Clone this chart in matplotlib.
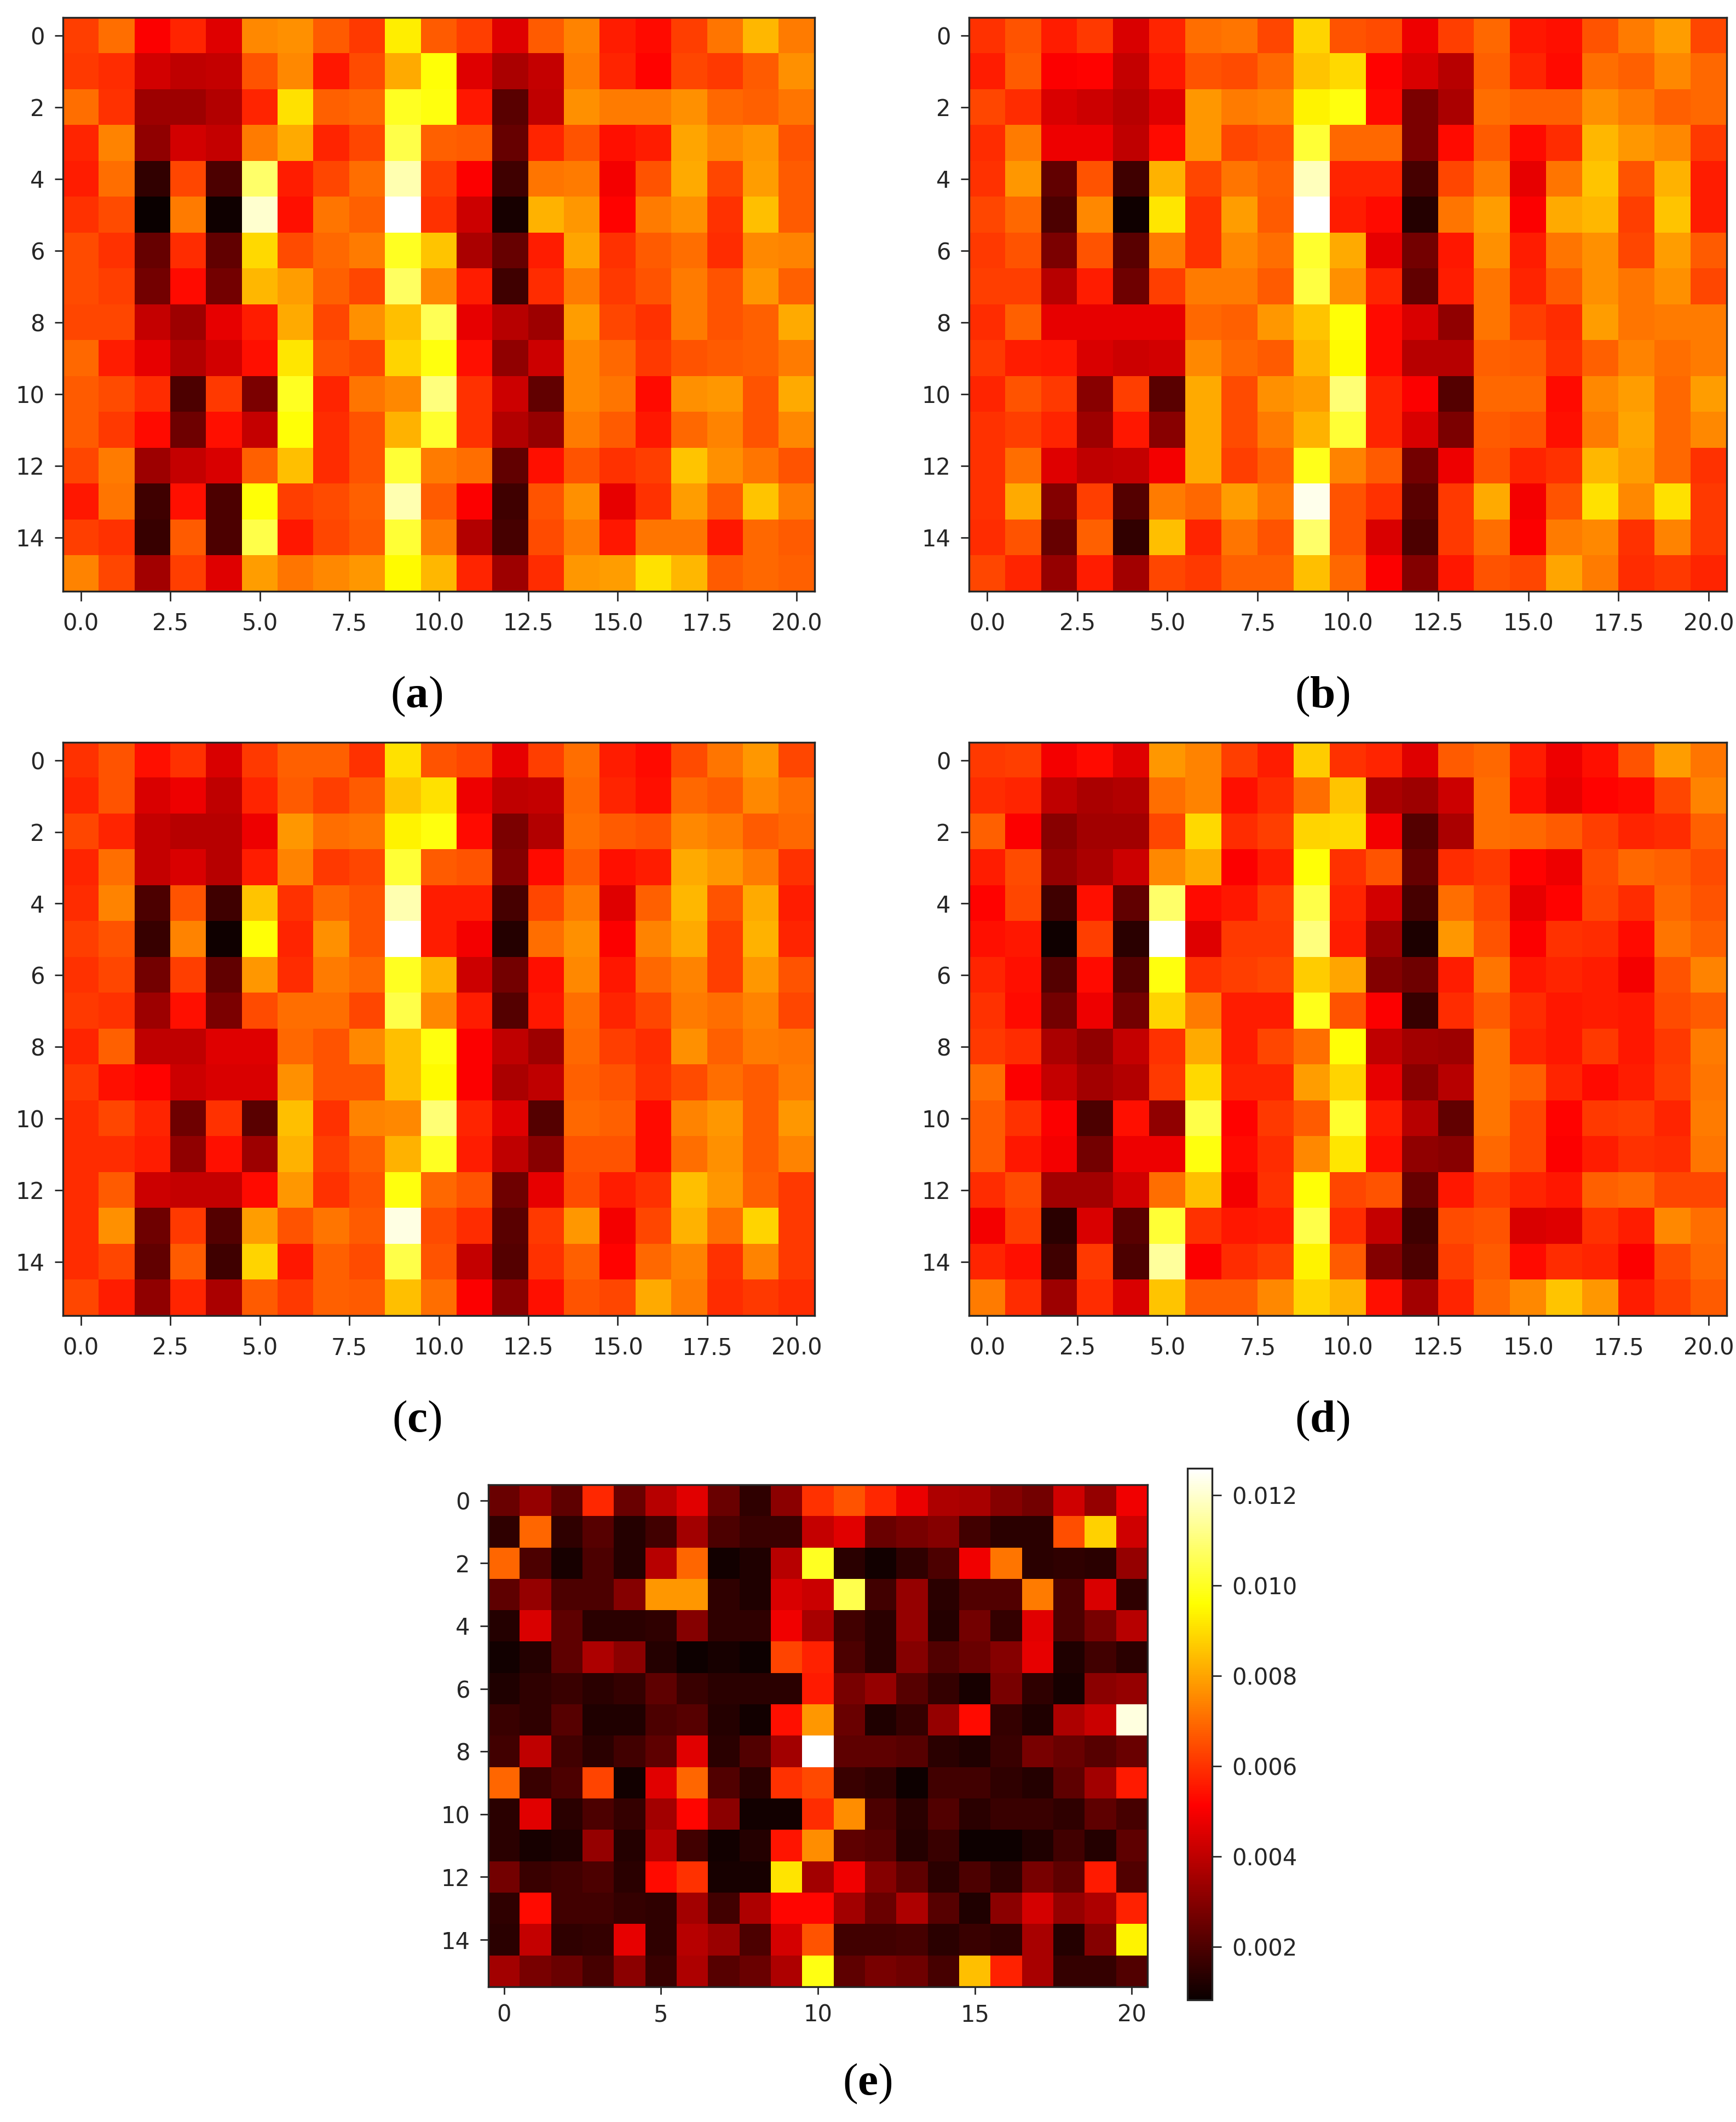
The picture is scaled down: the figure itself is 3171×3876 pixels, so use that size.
"""Heat maps of five panels, four sharing a common shape and one with a colour bar."""

import matplotlib

matplotlib.use("Agg")
import matplotlib.pyplot as plt
import numpy as np

plt.rcParams["mathtext.fontset"] = "custom"
plt.rcParams["mathtext.rm"] = "Liberation Serif"
plt.rcParams["mathtext.bf"] = "Liberation Serif:bold"

# panels a-d: position on the colour scale, 0 to 100
panel_a = [
    [46, 53, 36, 42, 32, 57, 58, 50, 45, 72, 50, 46, 32, 50, 56, 41, 38, 46, 54, 64, 55],
    [45, 43, 30, 27, 28, 49, 57, 40, 48, 62, 75, 32, 24, 28, 55, 42, 37, 47, 45, 50, 58],
    [53, 44, 22, 22, 25, 42, 70, 51, 52, 78, 76, 40, 12, 27, 58, 55, 55, 58, 52, 51, 54],
    [42, 56, 20, 30, 28, 55, 62, 42, 47, 82, 51, 50, 14, 42, 49, 39, 41, 61, 57, 59, 49],
    [41, 53, 6, 47, 10, 85, 41, 47, 53, 92, 46, 36, 8, 54, 55, 35, 49, 62, 47, 60, 50],
    [44, 48, 0, 55, 1, 95, 39, 54, 51, 100, 44, 29, 2, 63, 59, 37, 55, 58, 44, 65, 50],
    [48, 44, 14, 43, 13, 69, 48, 52, 55, 78, 66, 24, 14, 41, 61, 44, 50, 53, 43, 57, 56],
    [48, 46, 16, 38, 16, 64, 60, 51, 47, 84, 57, 41, 8, 43, 55, 45, 49, 55, 49, 59, 51],
    [47, 47, 28, 22, 33, 41, 62, 47, 58, 65, 83, 33, 26, 22, 60, 47, 44, 55, 49, 51, 62],
    [52, 41, 33, 25, 30, 39, 71, 49, 47, 68, 76, 39, 20, 29, 57, 52, 45, 49, 50, 51, 55],
    [50, 48, 43, 10, 45, 17, 78, 42, 54, 57, 87, 44, 29, 13, 57, 54, 38, 58, 59, 49, 62],
    [50, 45, 38, 15, 39, 28, 75, 43, 49, 63, 79, 44, 25, 21, 55, 50, 40, 52, 56, 49, 57],
    [47, 55, 22, 28, 31, 51, 65, 43, 49, 80, 55, 53, 13, 39, 49, 44, 46, 66, 58, 54, 49],
    [40, 54, 8, 39, 10, 75, 46, 48, 51, 92, 50, 36, 8, 49, 58, 33, 44, 60, 50, 66, 55],
    [46, 44, 7, 50, 10, 82, 40, 47, 50, 80, 55, 25, 9, 48, 55, 40, 54, 54, 40, 52, 50],
    [56, 47, 23, 46, 32, 60, 54, 57, 59, 74, 64, 42, 22, 43, 59, 60, 70, 64, 50, 52, 51],
]
panel_b = [
    [44, 49, 41, 45, 31, 42, 53, 54, 47, 68, 49, 48, 34, 46, 52, 40, 39, 49, 55, 60, 47],
    [41, 50, 36, 37, 28, 40, 49, 48, 52, 66, 69, 37, 31, 26, 51, 42, 38, 53, 51, 57, 52],
    [47, 43, 31, 29, 26, 32, 59, 55, 56, 73, 76, 38, 17, 24, 53, 51, 51, 58, 55, 51, 52],
    [43, 55, 34, 34, 27, 38, 59, 47, 49, 80, 52, 52, 17, 38, 50, 38, 43, 64, 59, 57, 45],
    [44, 59, 13, 49, 8, 63, 47, 54, 51, 93, 42, 42, 9, 47, 55, 33, 54, 66, 49, 63, 41],
    [47, 52, 10, 57, 1, 71, 44, 60, 50, 100, 41, 38, 4, 54, 60, 36, 62, 64, 46, 66, 41],
    [45, 49, 17, 49, 12, 55, 44, 57, 53, 79, 62, 33, 16, 40, 58, 41, 54, 58, 47, 60, 50],
    [46, 46, 26, 41, 15, 46, 55, 55, 50, 81, 58, 42, 13, 41, 54, 42, 50, 58, 54, 58, 47],
    [43, 51, 33, 33, 33, 33, 52, 51, 59, 66, 75, 38, 31, 20, 54, 46, 43, 60, 54, 55, 55],
    [45, 41, 40, 31, 29, 30, 57, 52, 50, 64, 74, 38, 26, 26, 51, 50, 44, 51, 56, 53, 55],
    [42, 49, 45, 19, 46, 12, 62, 48, 58, 60, 86, 42, 36, 11, 52, 52, 38, 57, 60, 52, 60],
    [44, 46, 42, 22, 40, 19, 62, 48, 55, 63, 80, 42, 31, 17, 50, 49, 39, 55, 61, 52, 57],
    [44, 53, 32, 27, 28, 35, 62, 46, 51, 77, 56, 50, 16, 34, 49, 42, 44, 64, 60, 52, 44],
    [44, 62, 18, 46, 11, 55, 52, 60, 54, 98, 49, 44, 12, 45, 62, 35, 49, 70, 57, 70, 45],
    [43, 49, 14, 51, 6, 65, 42, 54, 49, 85, 49, 31, 10, 45, 53, 36, 55, 57, 44, 56, 45],
    [47, 42, 21, 41, 23, 47, 45, 51, 51, 65, 52, 36, 18, 40, 49, 47, 61, 55, 43, 45, 42],
]
panel_c = [
    [44, 49, 39, 44, 31, 45, 51, 51, 44, 70, 49, 47, 33, 46, 53, 41, 38, 48, 54, 59, 47],
    [42, 49, 31, 34, 27, 42, 50, 46, 50, 66, 70, 34, 27, 28, 52, 42, 39, 52, 50, 57, 53],
    [47, 42, 28, 26, 26, 34, 59, 53, 54, 73, 76, 38, 17, 25, 53, 50, 49, 57, 55, 50, 52],
    [42, 53, 28, 31, 26, 41, 56, 45, 47, 80, 50, 49, 18, 38, 50, 39, 41, 62, 59, 55, 44],
    [43, 56, 10, 49, 8, 66, 44, 52, 49, 92, 41, 41, 9, 47, 55, 32, 51, 64, 49, 62, 41],
    [46, 49, 7, 56, 1, 75, 42, 58, 49, 100, 41, 35, 4, 53, 58, 36, 56, 62, 46, 63, 42],
    [44, 47, 16, 46, 13, 59, 43, 55, 52, 78, 63, 29, 16, 39, 57, 40, 52, 56, 46, 59, 49],
    [45, 44, 22, 39, 17, 48, 53, 53, 47, 82, 57, 41, 11, 40, 53, 42, 47, 55, 53, 56, 47],
    [42, 51, 27, 27, 32, 32, 52, 49, 57, 65, 76, 36, 27, 22, 52, 46, 43, 58, 51, 55, 54],
    [45, 39, 37, 29, 31, 31, 58, 49, 49, 65, 74, 36, 24, 27, 51, 49, 44, 48, 53, 50, 55],
    [43, 47, 42, 15, 44, 12, 65, 44, 56, 57, 86, 42, 32, 11, 52, 51, 38, 56, 59, 50, 59],
    [43, 43, 41, 20, 39, 22, 63, 46, 51, 63, 78, 41, 27, 19, 49, 49, 38, 53, 58, 50, 56],
    [43, 50, 29, 28, 28, 38, 59, 44, 49, 76, 52, 49, 15, 33, 48, 41, 44, 65, 59, 51, 45],
    [43, 58, 15, 45, 11, 60, 49, 54, 50, 97, 48, 43, 12, 45, 59, 35, 47, 63, 53, 68, 45],
    [43, 47, 13, 50, 8, 68, 40, 51, 48, 82, 49, 28, 11, 44, 51, 37, 52, 56, 44, 56, 45],
    [47, 41, 20, 42, 24, 50, 45, 51, 50, 65, 53, 36, 19, 39, 49, 47, 62, 55, 43, 45, 43],
]
panel_d = [
    [45, 46, 35, 38, 32, 59, 56, 46, 41, 67, 44, 42, 32, 50, 52, 41, 34, 39, 49, 60, 54],
    [43, 42, 27, 24, 25, 53, 56, 39, 43, 53, 66, 24, 22, 29, 53, 39, 33, 37, 38, 47, 56],
    [51, 36, 19, 23, 23, 47, 69, 43, 46, 68, 69, 35, 11, 24, 53, 52, 50, 46, 42, 43, 51],
    [41, 48, 21, 24, 29, 57, 62, 36, 41, 75, 44, 49, 14, 43, 45, 37, 34, 48, 52, 51, 48],
    [37, 47, 8, 39, 13, 85, 38, 40, 46, 82, 42, 30, 9, 53, 47, 33, 37, 47, 43, 52, 49],
    [39, 40, 1, 46, 5, 100, 32, 45, 45, 87, 41, 22, 3, 59, 49, 36, 44, 43, 38, 54, 51],
    [42, 39, 11, 38, 11, 76, 44, 46, 47, 67, 61, 18, 15, 41, 54, 40, 42, 41, 35, 49, 56],
    [44, 38, 16, 34, 16, 68, 55, 41, 41, 77, 49, 36, 7, 43, 50, 43, 40, 41, 40, 48, 50],
    [45, 43, 24, 20, 28, 44, 62, 41, 47, 53, 75, 27, 23, 22, 54, 42, 40, 45, 40, 45, 55],
    [53, 36, 28, 23, 25, 45, 69, 42, 42, 60, 68, 33, 19, 26, 54, 51, 42, 38, 41, 46, 54],
    [50, 44, 36, 10, 39, 20, 82, 37, 45, 50, 79, 41, 26, 13, 54, 47, 37, 45, 46, 42, 55],
    [50, 40, 35, 16, 34, 34, 76, 38, 43, 57, 71, 39, 20, 19, 52, 47, 36, 41, 44, 43, 54],
    [43, 48, 23, 23, 30, 53, 65, 35, 44, 75, 47, 49, 14, 40, 46, 42, 40, 51, 52, 47, 47],
    [35, 46, 5, 31, 12, 80, 44, 40, 41, 82, 43, 28, 8, 48, 49, 31, 32, 44, 41, 57, 53],
    [42, 39, 8, 45, 10, 90, 36, 43, 46, 73, 50, 18, 10, 46, 50, 38, 43, 42, 36, 48, 52],
    [55, 43, 22, 43, 31, 66, 50, 50, 57, 68, 63, 39, 23, 42, 52, 57, 66, 59, 41, 46, 50],
]
# panel e: values in units of 0.0001
panel_e = [
    [25, 33, 23, 58, 25, 39, 46, 25, 15, 31, 60, 66, 58, 48, 37, 36, 30, 27, 43, 33, 49],
    [15, 69, 15, 22, 13, 18, 35, 20, 17, 17, 41, 46, 25, 28, 30, 18, 14, 14, 65, 88, 43],
    [69, 20, 11, 20, 13, 39, 69, 10, 12, 39, 100, 14, 10, 15, 20, 49, 72, 14, 15, 14, 33],
    [23, 33, 20, 20, 30, 78, 78, 15, 12, 45, 42, 105, 18, 33, 14, 21, 21, 73, 20, 45, 15],
    [13, 45, 23, 14, 14, 15, 30, 15, 15, 49, 36, 18, 14, 33, 13, 27, 16, 46, 20, 28, 39],
    [10, 13, 23, 37, 31, 13, 9, 11, 9, 63, 57, 20, 14, 30, 21, 25, 30, 47, 12, 18, 14],
    [12, 15, 17, 14, 16, 23, 17, 14, 14, 14, 56, 28, 33, 22, 16, 11, 28, 15, 11, 31, 33],
    [17, 15, 22, 12, 12, 20, 22, 13, 10, 54, 78, 25, 12, 16, 33, 53, 16, 12, 37, 42, 122],
    [18, 40, 18, 14, 18, 23, 46, 14, 21, 35, 126, 23, 23, 22, 14, 12, 17, 28, 25, 22, 25],
    [69, 17, 20, 63, 10, 46, 69, 21, 14, 60, 64, 17, 15, 9, 18, 18, 15, 13, 23, 35, 56],
    [14, 46, 14, 20, 16, 35, 52, 31, 10, 10, 59, 76, 20, 14, 21, 14, 17, 17, 15, 23, 19],
    [14, 11, 12, 33, 13, 39, 18, 10, 13, 55, 76, 23, 22, 13, 17, 9, 9, 12, 18, 13, 23],
    [27, 17, 18, 20, 14, 53, 60, 11, 11, 91, 35, 49, 30, 23, 14, 20, 15, 28, 23, 56, 21],
    [15, 53, 18, 18, 16, 15, 35, 18, 37, 52, 52, 35, 25, 37, 22, 12, 31, 44, 33, 37, 57],
    [14, 41, 15, 16, 47, 15, 39, 34, 20, 44, 66, 18, 18, 19, 14, 17, 15, 36, 13, 30, 94],
    [35, 28, 25, 19, 31, 17, 37, 22, 25, 37, 98, 23, 28, 26, 19, 85, 57, 36, 16, 16, 21],
]
x_ticks_small = [0, 2.5, 5, 7.5, 10, 12.5, 15, 17.5, 20]
x_ticks_wide = [0, 5, 10, 15, 20]
y_ticks = [0, 2, 4, 6, 8, 10, 12, 14]
cbar_ticks = [0.002, 0.004, 0.006, 0.008, 0.010, 0.012]
captions = ["a", "b", "c", "d", "e"]

WIDTH, HEIGHT = 3171, 3876
TEXT = "#262626"


def px_axes(fig, left, top, right, bottom):
    return fig.add_axes(
        [left / WIDTH, 1 - bottom / HEIGHT, (right - left) / WIDTH, (bottom - top) / HEIGHT]
    )


def style_axes(ax, xticks, xfmt, xlen, xpad):
    ax.set_xticks(xticks)
    ax.set_xticklabels([xfmt.format(t) for t in xticks])
    ax.set_yticks(y_ticks)
    ax.tick_params(axis="x", length=xlen, width=2, labelsize=30, pad=xpad, color=TEXT, labelcolor=TEXT)
    ax.tick_params(axis="y", length=11, width=2, labelsize=30, pad=13, color=TEXT, labelcolor=TEXT)
    for spine in ax.spines.values():
        spine.set_linewidth(2.4)
        spine.set_color(TEXT)


def caption(fig, letter, x, y):
    fig.text(
        x / WIDTH,
        1 - y / HEIGHT,
        rf"($\mathbf{{{letter}}}$)",
        fontsize=60,
        family="Liberation Serif",
        ha="center",
        va="center",
        color="black",
    )


fig = plt.figure(figsize=(WIDTH / 100, HEIGHT / 100), dpi=100, facecolor="white")

boxes = [
    (115, 32, 1488, 1080),
    (1770, 32, 3154, 1080),
    (115, 1356, 1488, 2403),
    (1770, 1356, 3154, 2403),
]
for data, box in zip([panel_a, panel_b, panel_c, panel_d], boxes):
    ax = px_axes(fig, *box)
    ax.imshow(np.array(data), cmap="hot", vmin=0, vmax=100, aspect="auto", interpolation="nearest")
    style_axes(ax, x_ticks_small, "{:.1f}", 13, 15)

ax_e = px_axes(fig, 892, 2712, 2096, 3629)
img = ax_e.imshow(
    np.array(panel_e) * 1e-4, cmap="hot", vmin=0.00083, vmax=0.01259, aspect="auto", interpolation="nearest"
)
style_axes(ax_e, x_ticks_wide, "{:d}", 10, 12)

cax = px_axes(fig, 2169, 2682, 2214, 3653)
cbar = fig.colorbar(img, cax=cax)
cbar.set_ticks(cbar_ticks)
cbar.set_ticklabels([f"{t:.3f}" for t in cbar_ticks])
cbar.ax.tick_params(length=12, width=2, labelsize=30, pad=14, color=TEXT, labelcolor=TEXT)
cbar.outline.set_linewidth(2.4)
cbar.outline.set_edgecolor(TEXT)

for letter, (x, y) in zip(captions, [(761, 1272), (2415, 1272), (761, 2595), (2415, 2595), (1584, 3806)]):
    caption(fig, letter, x, y)

fig.savefig("out.png", dpi=100, facecolor="white")
plt.close(fig)
